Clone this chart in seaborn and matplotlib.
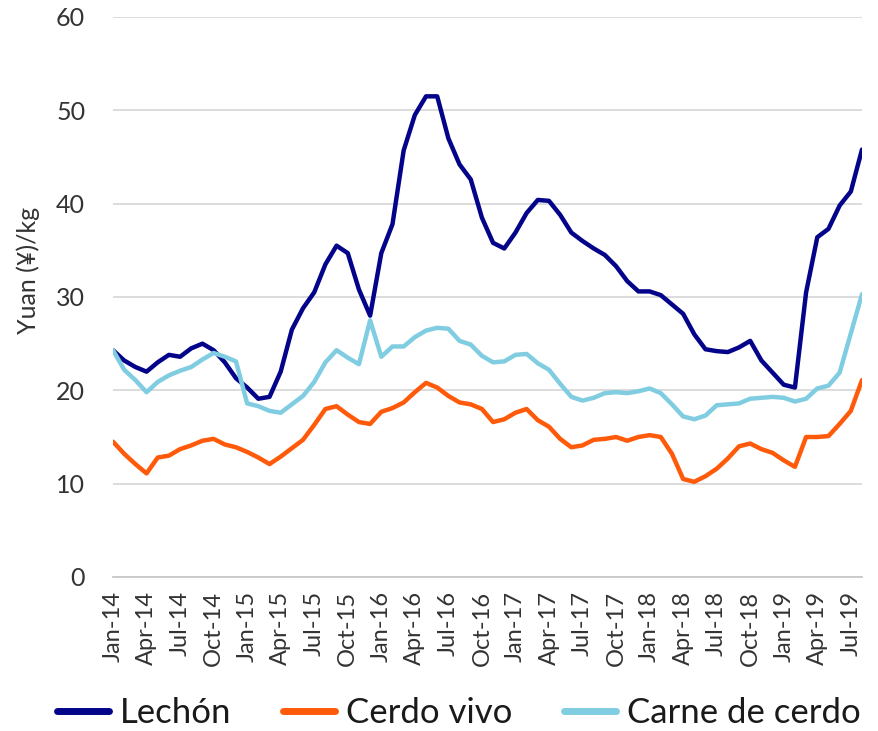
import matplotlib
matplotlib.use("Agg")
import matplotlib.pyplot as plt
import seaborn as sns
import numpy as np
import pandas as pd

# monthly prices, Jan-14 .. Aug-19 (yuan per kg)
months = pd.date_range("2014-01-01", periods=68, freq="MS").strftime("%b-%y").tolist()

lechon = [24.3, 23.2, 22.5, 22.0, 23.0, 23.8, 23.6, 24.5, 25.0, 24.3, 23.0, 21.3,
          20.3, 19.1, 19.3, 22.0, 26.5, 28.8, 30.5, 33.5, 35.5, 34.7, 30.8, 28.0,
          34.7, 37.8, 45.7, 49.5, 51.5, 51.5, 47.0, 44.2, 42.6, 38.5, 35.8, 35.2,
          36.9, 39.0, 40.4, 40.3, 38.8, 36.9, 36.0, 35.2, 34.5, 33.3, 31.7, 30.6,
          30.6, 30.2, 29.2, 28.2, 26.0, 24.4, 24.2, 24.1, 24.6, 25.3, 23.2, 21.9,
          20.6, 20.3, 30.5, 36.4, 37.3, 39.8, 41.3, 45.8]

cerdo_vivo = [14.5, 13.2, 12.1, 11.1, 12.8, 13.0, 13.7, 14.1, 14.6, 14.8, 14.2, 13.9,
              13.4, 12.8, 12.1, 12.9, 13.8, 14.7, 16.3, 18.0, 18.3, 17.4, 16.6, 16.4,
              17.7, 18.1, 18.7, 19.8, 20.8, 20.3, 19.4, 18.7, 18.5, 18.0, 16.6, 16.9,
              17.6, 18.0, 16.8, 16.1, 14.8, 13.9, 14.1, 14.7, 14.8, 15.0, 14.6, 15.0,
              15.2, 15.0, 13.2, 10.5, 10.2, 10.8, 11.6, 12.7, 14.0, 14.3, 13.7, 13.3,
              12.5, 11.8, 15.0, 15.0, 15.1, 16.4, 17.8, 21.1]

carne_cerdo = [24.3, 22.2, 21.1, 19.8, 20.9, 21.6, 22.1, 22.5, 23.3, 24.0, 23.6, 23.1,
               18.6, 18.3, 17.8, 17.6, 18.5, 19.4, 20.9, 23.0, 24.3, 23.5, 22.8, 27.5,
               23.6, 24.7, 24.7, 25.7, 26.4, 26.7, 26.6, 25.3, 24.9, 23.7, 23.0, 23.1,
               23.8, 23.9, 22.9, 22.2, 20.7, 19.3, 18.9, 19.2, 19.7, 19.8, 19.7, 19.9,
               20.2, 19.7, 18.5, 17.2, 16.9, 17.3, 18.4, 18.5, 18.6, 19.1, 19.2, 19.3,
               19.2, 18.8, 19.1, 20.2, 20.5, 21.9, 26.1, 30.3]

series_names = ["Lechón", "Cerdo vivo", "Carne de cerdo"]
colors = ["#04048A", "#FF5A0A", "#80CDE1"]

df = pd.DataFrame({"t": np.arange(len(months)),
                   "Lechón": lechon,
                   "Cerdo vivo": cerdo_vivo,
                   "Carne de cerdo": carne_cerdo})
long_df = df.melt(id_vars="t", var_name="serie", value_name="precio")

sns.set_theme(style="white")
plt.rcParams["font.family"] = ["Lato", "DejaVu Sans"]

fig = plt.figure(figsize=(8.79, 7.31), dpi=100)
ax = fig.add_axes([113 / 879, 1 - 577 / 731, (862 - 113) / 879, (577 - 17) / 731])

sns.lineplot(data=long_df, x="t", y="precio", hue="serie", hue_order=series_names,
             palette=colors, linewidth=3.2, ax=ax, legend=False)

ax.set_xlim(0, len(months) - 1)
ax.set_ylim(0, 60)
ax.set_yticks(range(0, 61, 10))
ax.yaxis.grid(True, color="#D9D9D9", linewidth=1.3)
ax.set_axisbelow(True)
for side in ["left", "right", "top"]:
    ax.spines[side].set_visible(False)
ax.spines["bottom"].set_color("#C8C8C8")
ax.spines["bottom"].set_linewidth(1.3)

tick_pos = list(range(0, len(months), 3))
ax.set_xticks(tick_pos)
ax.set_xticklabels([months[i] for i in tick_pos], rotation=90, fontsize=17, color="#333333")
ax.tick_params(axis="x", direction="out", length=6, width=1.2, color="#C8C8C8", pad=4)
ax.tick_params(axis="y", length=0, labelsize=18, labelcolor="#333333", pad=20)
ax.set_xlabel("")
ax.set_ylabel("")

fig.text(28 / 879, 1 - 270 / 731, "Yuan (¥)/kg", rotation=90, ha="center", va="center",
         fontsize=18, color="#333333")

handles = [plt.Line2D([], [], color=c, linewidth=5, solid_capstyle="round") for c in colors]
fig.legend(handles, series_names, loc="center", bbox_to_anchor=(0.522, 1 - 713 / 731),
           ncol=3, frameon=False, fontsize=25, handlelength=1.5, handletextpad=0.3,
           columnspacing=1.5, labelcolor="#1a1a1a")

fig.savefig("out.png", dpi=100)
